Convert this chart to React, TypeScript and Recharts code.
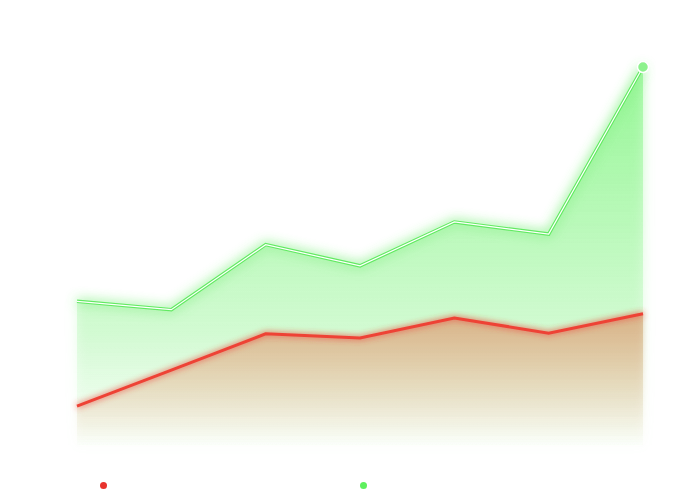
import React from 'react';
import { ComposedChart, Area, Line, XAxis, YAxis, Legend } from 'recharts';

const months = ['Jan', 'Feb', 'Mar', 'Apr', 'May', 'Jun', 'Jul'];
const income = [38, 35.8, 53, 47.4, 59, 55.8, 100];
const expenses = [10.3, 19.8, 29.4, 28.3, 33.6, 29.6, 34.7];

const data = months.map((m, i) => ({ month: m, income: income[i], expenses: expenses[i] }));

const GREEN = '#62ea62';
const RED = '#ee4236';

const LastDot = (props: any) => {
  const { cx, cy, index } = props;
  if (index !== data.length - 1) return <g key={index} />;
  return <circle key={index} cx={cx} cy={cy} r={5.5} fill="#8cf28c" stroke="#fff" strokeWidth={1.5} />;
};

const DotLegend = () => (
  <div style={{ position: 'relative', width: 690, height: 12 }}>
    <span style={{ position: 'absolute', left: 100, top: 2, width: 7, height: 7, borderRadius: '50%', background: '#e8332e' }} />
    <span style={{ position: 'absolute', left: 360, top: 2, width: 7, height: 7, borderRadius: '50%', background: '#5ef05e' }} />
  </div>
);

export default function App() {
  return (
    <div style={{ position: 'fixed', left: 0, top: 0, width: 690, height: 497, background: '#fff' }}>
      <ComposedChart width={690} height={497} data={data} margin={{ top: 67, right: 47, bottom: 40, left: 77 }}>
        <defs>
          <linearGradient id="greenFill" x1="0" y1="0" x2="0" y2="1">
            <stop offset="0%" stopColor="#7ef57e" stopOpacity={0.95} />
            <stop offset="70%" stopColor="#9ef59e" stopOpacity={0.45} />
            <stop offset="100%" stopColor="#b0f5b0" stopOpacity={0.05} />
          </linearGradient>
          <linearGradient id="redFill" x1="0" y1="0" x2="0" y2="1">
            <stop offset="0%" stopColor="#dca278" stopOpacity={0.95} />
            <stop offset="100%" stopColor="#eebfa0" stopOpacity={0} />
          </linearGradient>
          <filter id="greenGlow" x="-20%" y="-20%" width="140%" height="140%">
            <feGaussianBlur in="SourceGraphic" stdDeviation="6" result="blur" />
            <feMerge>
              <feMergeNode in="blur" />
              <feMergeNode in="SourceGraphic" />
            </feMerge>
          </filter>
          <filter id="redGlow" x="-20%" y="-20%" width="140%" height="140%">
            <feGaussianBlur in="SourceGraphic" stdDeviation="3" result="blur" />
            <feMerge>
              <feMergeNode in="blur" />
              <feMergeNode in="SourceGraphic" />
            </feMerge>
          </filter>
        </defs>
        <XAxis dataKey="month" hide />
        <YAxis hide domain={[0, 100]} />
        <Legend content={DotLegend} wrapperStyle={{ left: 0, top: 480 }} />
        <Area
          type="linear"
          dataKey="income"
          stroke={GREEN}
          strokeWidth={3.5}
          fill="url(#greenFill)"
          filter="url(#greenGlow)"
          dot={false}
          activeDot={false}
          isAnimationActive={false}
        />
        <Line
          type="linear"
          dataKey="income"
          stroke="#ffffff"
          strokeWidth={1.2}
          dot={LastDot}
          activeDot={false}
          legendType="none"
          isAnimationActive={false}
        />
        <Area
          type="linear"
          dataKey="expenses"
          stroke={RED}
          strokeWidth={3}
          fill="url(#redFill)"
          filter="url(#redGlow)"
          dot={false}
          activeDot={false}
          isAnimationActive={false}
        />
      </ComposedChart>
    </div>
  );
}
